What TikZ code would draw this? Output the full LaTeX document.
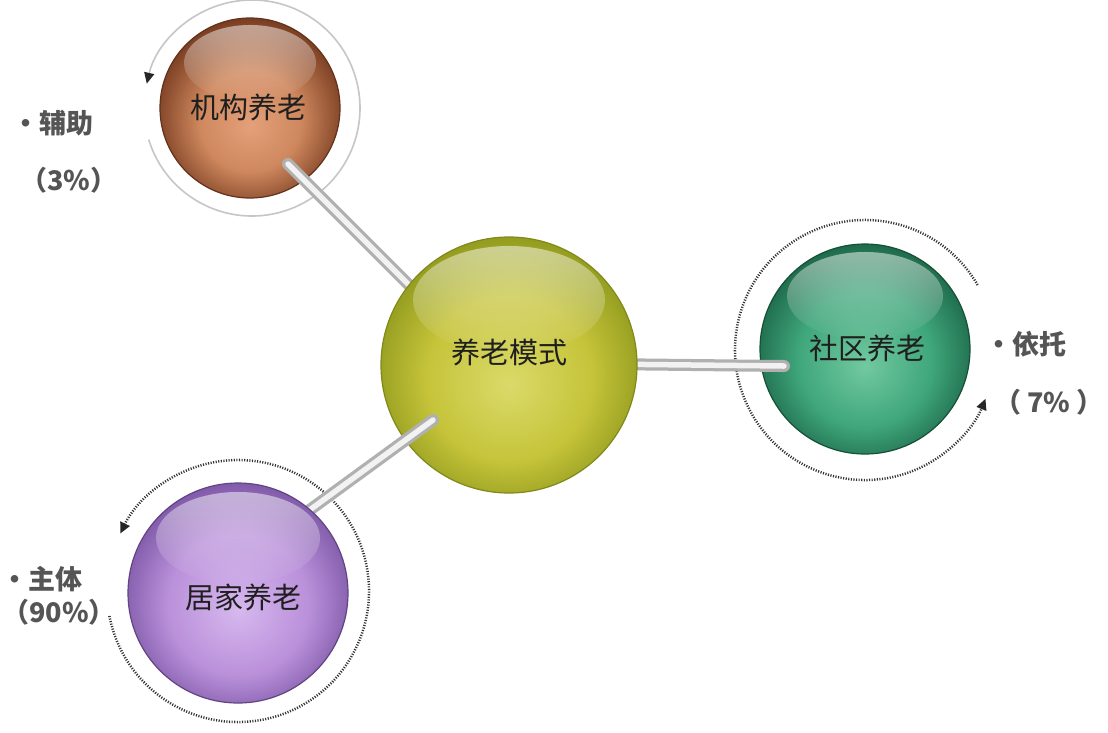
\documentclass[tikz,border=0pt]{standalone}
\usepackage{fontspec}
\newfontfamily\cjk{Noto Sans CJK SC}
\usetikzlibrary{calc,arrows.meta,fadings,shadings}
\definecolor{ocl}{HTML}{E4A07A}\definecolor{ocm}{HTML}{CF885E}\definecolor{ocd}{HTML}{7A3E22}
\definecolor{mcl}{HTML}{DADA6A}\definecolor{mcm}{HTML}{C6C43A}\definecolor{mcd}{HTML}{8E981C}
\definecolor{scl}{HTML}{72C9A0}\definecolor{scm}{HTML}{3FA67B}\definecolor{scd}{HTML}{1B6446}
\definecolor{pcl}{HTML}{D6B8EE}\definecolor{pcm}{HTML}{BA90DA}\definecolor{pcd}{HTML}{7A55A4}
\definecolor{lbl}{HTML}{555555}
\pgfdeclareradialshading{oball}{\pgfpoint{0bp}{-5bp}}{color(0bp)=(ocl); color(14bp)=(ocm); color(27bp)=(ocd); color(50bp)=(ocd)}
\pgfdeclareradialshading{mball}{\pgfpoint{0bp}{-4bp}}{color(0bp)=(mcl); color(16bp)=(mcm); color(28bp)=(mcd); color(50bp)=(mcd)}
\pgfdeclareradialshading{sball}{\pgfpoint{0bp}{-4bp}}{color(0bp)=(scl); color(16bp)=(scm); color(28bp)=(scd); color(50bp)=(scd)}
\pgfdeclareradialshading{pball}{\pgfpoint{0bp}{-4bp}}{color(0bp)=(pcl); color(16bp)=(pcm); color(28bp)=(pcd); color(50bp)=(pcd)}
\tikzfading[name=hlfade, top color=transparent!50, bottom color=transparent!100]
\begin{document}
\begin{tikzpicture}[x=1pt,y=1pt,
  ball/.style={circle, inner sep=0pt, font=\cjk\fontsize{29}{29}\selectfont, text=black!88},
  rod/.style={line width=12pt, draw=gray!62, line cap=round,
     postaction={draw=gray!10, line width=5.5pt, line cap=round}},
  ringsolid/.style={draw=gray!45, line width=1.6pt, -{Triangle[length=11pt,width=10pt,color=black!85]}},
  ringdot/.style={draw=black!80, line width=2.5pt, dash pattern=on 1.1pt off 1.5pt, -{Triangle[length=11pt,width=10pt,color=black!85]}},
  lab/.style={anchor=west, inner sep=0pt, font=\cjk\bfseries\fontsize{27}{27}\selectfont, text=lbl},
  hl/.style={fill=white, path fading=hlfade}]
\useasboundingbox[fill=white] (0,0) rectangle (1108,-732);
% positions
\coordinate (cjg) at (250,-108);
\coordinate (cms) at (509,-365);
\coordinate (csq) at (865,-349);
\coordinate (cjj) at (238,-593);
% rings
\draw[ringsolid] ($(252,-108)+(197:108pt)$) arc[start angle=197, end angle=527, radius=108pt];
\draw[ringdot] ($(865,-350)+(30:130pt)$) arc[start angle=30, end angle=338, radius=130pt];
\draw[ringdot] ($(238,-591)+(191:131pt)$) arc[start angle=191, end angle=514, radius=131pt];
% orange and green spheres
\node[ball, minimum size=180pt, shading=oball, draw=ocd!80!black, line width=1.2pt] (jg) at (cjg) {};
\fill[hl] ($(jg.center)+(0,45)$) ellipse (66pt and 38pt);
\node[ball, minimum size=210pt, shading=sball, draw=scd!80!black, line width=1.2pt] (sq) at (csq) {};
\fill[hl] ($(sq.center)+(0,53)$) ellipse (78pt and 44pt);
% rods behind the centre sphere
\coordinate (rA1) at (288,-164);
\coordinate (rA2) at (440,-316);
\coordinate (rB1) at (784,-366);
\coordinate (rB2) at (600,-364);
\draw[rod] (rA1) -- (rA2);
\draw[rod] (rB1) -- (rB2);
% centre sphere
\node[ball, minimum size=256pt, shading=mball, draw=mcd!90!black, line width=1.2pt] (ms) at (cms) {};
\fill[hl] ($(ms.center)+(0,65)$) ellipse (96pt and 54pt);
% rod over centre, behind purple
\coordinate (rC1) at (433,-420);
\coordinate (rC2) at (285,-528);
\draw[rod] (rC1) -- (rC2);
\node[ball, minimum size=220pt, shading=pball, draw=pcd!80!black, line width=1.2pt] (jj) at (cjj) {};
\fill[hl] ($(jj.center)+(0,55)$) ellipse (82pt and 46pt);
% sphere texts
\node[ball] (tjg) at (248,-107) {机构养老};
\node[ball] (tms) at (509,-352) {养老模式};
\node[ball] (tsq) at (867,-348) {社区养老};
\node[ball] (tjj) at (243,-597) {居家养老};
% labels
\node[lab] (l1) at (12,-123) {•辅助};
\node[lab] (p1) at (20,-180) {（3\%）};
\node[lab] (l2) at (985,-344) {•依托};
\node[lab] (p2) at (994,-402) {（\hspace{6pt}7\%\hspace{6pt}）};
\node[lab] (l3) at (1,-579) {•主体};
\node[lab] (p3) at (2,-612) {（90\%）};
\end{tikzpicture}
\end{document}
